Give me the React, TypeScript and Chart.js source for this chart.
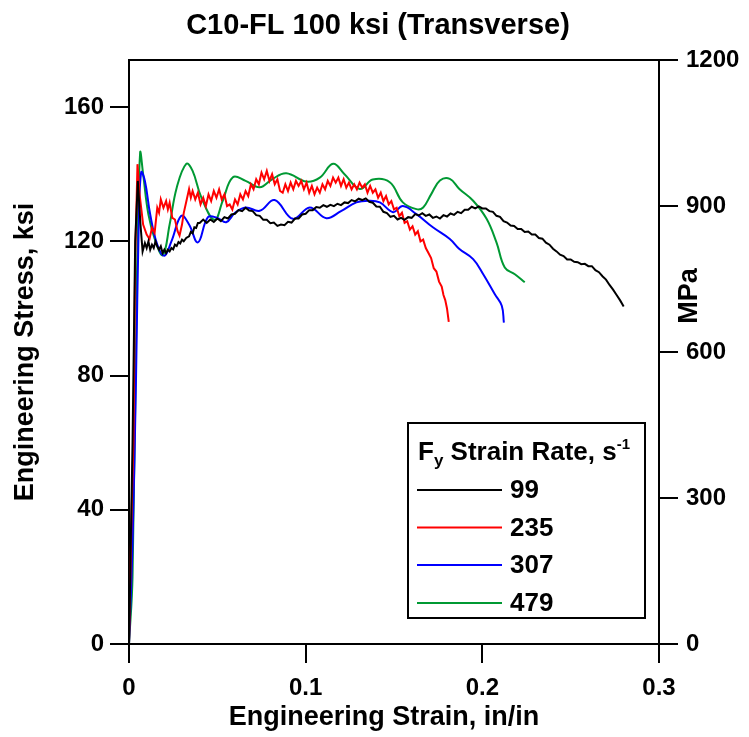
import React, { useEffect, useRef } from "react";
import { Chart, registerables } from "chart.js";

Chart.register(...registerables);

const FONT = "'Liberation Sans', Arial, Helvetica, sans-serif";

const chartTitle = "C10-FL 100 ksi (Transverse)";
const xTitle = "Engineering Strain, in/in";
const yTitle = "Engineering Stress, ksi";
const y2Title = "MPa";

const xTicks = [0, 0.1, 0.2, 0.3];
const yTicks = [0, 40, 80, 120, 160];
const y2Ticks = [0, 300, 600, 900, 1200];
const yMax = 1200 / 6.895;

const seriesLabels = ["99", "235", "307", "479"];
const seriesColors = ["#000000", "#ff0000", "#0000ff", "#009933"];

const strain99 = [0, 0.002, 0.0035, 0.005, 0.0065, 0.0077, 0.009, 0.010, 0.011, 0.012, 0.013, 0.014, 0.015, 0.016, 0.017, 0.018, 0.019, 0.020, 0.021, 0.022, 0.023, 0.024, 0.025, 0.026, 0.027, 0.028, 0.029, 0.030, 0.031, 0.0324, 0.034, 0.035, 0.036, 0.037, 0.038, 0.039, 0.040, 0.042, 0.044, 0.046, 0.048, 0.050, 0.052, 0.054, 0.056, 0.058, 0.060, 0.062, 0.064, 0.066, 0.068, 0.070, 0.072, 0.074, 0.076, 0.078, 0.080, 0.082, 0.084, 0.086, 0.088, 0.090, 0.092, 0.094, 0.096, 0.098, 0.100, 0.102, 0.104, 0.106, 0.108, 0.110, 0.112, 0.114, 0.116, 0.118, 0.120, 0.122, 0.124, 0.126, 0.128, 0.130, 0.132, 0.134, 0.136, 0.138, 0.140, 0.142, 0.144, 0.146, 0.148, 0.150, 0.152, 0.154, 0.156, 0.158, 0.160, 0.162, 0.164, 0.166, 0.168, 0.170, 0.172, 0.174, 0.176, 0.178, 0.180, 0.182, 0.184, 0.186, 0.188, 0.190, 0.192, 0.194, 0.196, 0.198, 0.200, 0.202, 0.204, 0.206, 0.208, 0.210, 0.212, 0.214, 0.216, 0.218, 0.220, 0.222, 0.224, 0.226, 0.228, 0.230, 0.232, 0.234, 0.236, 0.238, 0.240, 0.242, 0.244, 0.246, 0.248, 0.250, 0.252, 0.254, 0.256, 0.258, 0.260, 0.262, 0.264, 0.266, 0.268, 0.270, 0.272, 0.274, 0.276, 0.278, 0.280];
const stress99 = [0, 60, 120, 138, 125, 117, 119.5, 118, 120, 117.5, 119, 118, 120, 118.5, 117.5, 118.5, 116.5, 117.5, 116.5, 117.5, 117, 118, 117.6, 119, 118.6, 119.8, 119.4, 120.5, 120, 121, 121.5, 122.8, 122.4, 124.2, 124, 125.5, 125.5, 126.5, 125.5, 126.5, 125.8, 126.8, 126, 127.2, 126.8, 128, 128.2, 129.3, 129, 130, 129.2, 129, 127.8, 127.6, 126.4, 126.4, 125.4, 125.6, 124.6, 125, 124.8, 125.8, 125.6, 126.8, 126.8, 128, 128.2, 129.3, 129.3, 130.2, 130, 130.8, 130.3, 130.9, 130.5, 131.2, 130.8, 131.6, 131.4, 132.3, 131.9, 132.7, 132.3, 132.8, 131.8, 131.5, 130.4, 130.3, 128.8, 128.4, 127.3, 127.6, 126.5, 127, 126.4, 127.2, 127, 128.1, 127.7, 128.4, 127.6, 128, 127, 127.4, 126.8, 127.8, 127.4, 128.3, 127.9, 128.8, 128.4, 129.4, 129.4, 130.3, 129.8, 130.4, 129.8, 129.8, 129, 128.8, 127.6, 127.3, 126, 125.6, 124.7, 124.6, 123.7, 123.7, 122.8, 122.9, 122, 122, 121, 120.8, 119.6, 119, 117.8, 117, 116, 115.6, 114.6, 114.6, 113.9, 113.8, 113.2, 113.3, 112.6, 112.6, 111.4, 110.8, 109.6, 108.6, 107, 105.6, 104, 102.4, 100.6];

const strain235 = [0, 0.0015, 0.0025, 0.0035, 0.0048, 0.006, 0.008, 0.01, 0.0116, 0.013, 0.0145, 0.016, 0.017, 0.018, 0.0195, 0.021, 0.022, 0.023, 0.0245, 0.026, 0.0275, 0.0286, 0.030, 0.031, 0.0325, 0.034, 0.035, 0.036, 0.0375, 0.039, 0.0405, 0.042, 0.0435, 0.045, 0.0465, 0.048, 0.0495, 0.051, 0.0525, 0.054, 0.0555, 0.057, 0.0585, 0.060, 0.0615, 0.063, 0.0645, 0.066, 0.0675, 0.069, 0.0705, 0.072, 0.0735, 0.075, 0.0765, 0.078, 0.0795, 0.081, 0.0825, 0.084, 0.0855, 0.087, 0.0885, 0.090, 0.0915, 0.093, 0.0945, 0.096, 0.0975, 0.099, 0.1005, 0.102, 0.1035, 0.105, 0.1065, 0.108, 0.1095, 0.111, 0.1125, 0.114, 0.1155, 0.117, 0.1185, 0.120, 0.1215, 0.123, 0.1245, 0.126, 0.1275, 0.129, 0.1305, 0.132, 0.1335, 0.135, 0.1365, 0.138, 0.1395, 0.141, 0.1425, 0.144, 0.1455, 0.147, 0.1485, 0.150, 0.1515, 0.153, 0.1545, 0.156, 0.1575, 0.159, 0.1605, 0.162, 0.1635, 0.165, 0.1665, 0.168, 0.1695, 0.171, 0.1725, 0.174, 0.1755, 0.177, 0.178, 0.179, 0.18, 0.181];
const stress235 = [0, 40, 60, 115, 143, 134, 125, 122, 120.7, 124, 122.5, 130, 128.5, 132.5, 130, 132, 129.5, 131.5, 127, 126.5, 123, 121.7, 125, 128.5, 132, 135.6, 133, 135, 132.5, 134.5, 131, 133, 130.5, 134, 132, 135, 133, 135.5, 132.5, 134, 130.5, 131, 129.5, 132.5, 131, 134, 132.5, 135, 133.5, 137, 135.5, 138.5, 137, 140.5, 138.5, 141, 138, 140, 137, 138.5, 135, 134.5, 137, 135, 137.5, 135.5, 138, 136.5, 138, 135.5, 137.5, 134.5, 136.5, 134, 136, 134.5, 137, 135.5, 138, 136.5, 139, 137.5, 139, 136.5, 138.5, 136, 137.5, 135.5, 137, 135.5, 137.5, 136, 137, 134.5, 136.5, 134.5, 135.5, 133, 134.5, 132, 133.5, 131, 132, 129.5, 130, 127.5, 128.5, 125.5, 126, 123.5, 124.5, 122, 123, 120, 120.5, 118, 116.5, 115, 112, 111, 108, 106.5, 104, 102.5, 100, 96];

const strain307 = [0, 0.002, 0.004, 0.0055, 0.0069, 0.009, 0.012, 0.016, 0.02, 0.024, 0.0296, 0.034, 0.039, 0.0447, 0.05, 0.055, 0.06, 0.066, 0.074, 0.0824, 0.0928, 0.1023, 0.1117, 0.12, 0.1287, 0.1363, 0.142, 0.1495, 0.155, 0.1627, 0.172, 0.1816, 0.187, 0.1948, 0.2005, 0.207, 0.211, 0.2122];
const stress307 = [0, 30, 80, 125, 140.6, 138, 128, 119, 115.7, 120, 127.6, 125, 119.7, 127.2, 127, 125.7, 128.5, 130.1, 129.1, 132.3, 126.7, 130.1, 126.9, 129, 131.6, 132.1, 131.6, 128.7, 130.5, 128.1, 124.2, 120.7, 117.7, 114.7, 110.2, 104.3, 100.8, 95.8];

const strain479 = [0, 0.002, 0.0045, 0.0063, 0.008, 0.011, 0.015, 0.0192, 0.023, 0.027, 0.0324, 0.036, 0.041, 0.0484, 0.053, 0.0588, 0.066, 0.074, 0.081, 0.089, 0.1004, 0.108, 0.1155, 0.122, 0.1306, 0.138, 0.1476, 0.155, 0.1627, 0.1665, 0.171, 0.176, 0.1816, 0.187, 0.1948, 0.2024, 0.208, 0.2127, 0.2184, 0.224];
const stress479 = [0, 20, 110, 146.4, 140, 128, 120, 115.9, 125, 136, 143.1, 141, 133, 126.4, 132, 139.1, 138, 136.1, 138.5, 140.3, 137.8, 139, 143.1, 140, 135.6, 138.4, 137.6, 131.6, 129.6, 130.1, 134, 138.1, 138.6, 135.6, 132.1, 126.7, 119.7, 112.2, 110.2, 107.8];

const seriesStrain = [strain99, strain235, strain307, strain479];
const seriesStress = [stress99, stress235, stress307, stress479];
const seriesSmooth = [0, 0, 0.4, 0.4];

const textPlugin = {
  id: "textPlugin",
  afterDraw(chart: any) {
    const ctx = chart.ctx as CanvasRenderingContext2D;
    const ca = chart.chartArea;
    ctx.save();
    ctx.fillStyle = "#000";
    ctx.strokeStyle = "#000";
    ctx.lineWidth = 2;
    ctx.beginPath();
    ctx.moveTo(ca.left - 1, ca.top);
    ctx.lineTo(ca.right, ca.top);
    ctx.stroke();

    ctx.textAlign = "center";
    ctx.textBaseline = "middle";
    ctx.font = `bold 29px ${FONT}`;
    ctx.fillText(chartTitle, 378, 26);

    ctx.font = `bold 27px ${FONT}`;
    ctx.fillText(xTitle, 384, 718);

    ctx.save();
    ctx.translate(26, 352);
    ctx.rotate(-Math.PI / 2);
    ctx.fillText(yTitle, 0, 0);
    ctx.restore();

    ctx.save();
    ctx.translate(690, 296);
    ctx.rotate(-Math.PI / 2);
    ctx.fillText(y2Title, 0, 0);
    ctx.restore();

    // legend
    const bx = 408, by = 423, bw = 237, bh = 195;
    ctx.fillStyle = "#fff";
    ctx.fillRect(bx, by, bw, bh);
    ctx.lineWidth = 2;
    ctx.strokeRect(bx, by, bw, bh);
    ctx.fillStyle = "#000";
    ctx.textAlign = "left";
    ctx.textBaseline = "alphabetic";
    let x = 418;
    const ty = 460;
    ctx.font = `bold 26px ${FONT}`;
    ctx.fillText("F", x, ty);
    x += ctx.measureText("F").width;
    ctx.font = `bold 17px ${FONT}`;
    ctx.fillText("y", x, ty + 6);
    x += ctx.measureText("y").width;
    ctx.font = `bold 26px ${FONT}`;
    ctx.fillText(" Strain Rate, s", x, ty);
    x += ctx.measureText(" Strain Rate, s").width;
    ctx.font = `bold 15px ${FONT}`;
    ctx.fillText("-1", x, ty - 11);

    ctx.font = `bold 26px ${FONT}`;
    ctx.textBaseline = "middle";
    const rows = [490, 527.5, 565, 603];
    seriesLabels.forEach((lab, i) => {
      ctx.strokeStyle = seriesColors[i];
      ctx.lineWidth = 2;
      ctx.beginPath();
      ctx.moveTo(417, rows[i]);
      ctx.lineTo(502, rows[i]);
      ctx.stroke();
      ctx.fillText(lab, 510, rows[i] + 1);
    });
    ctx.restore();
  },
};

export default function App() {
  const ref = useRef<HTMLCanvasElement | null>(null);
  useEffect(() => {
    if (!ref.current) return;
    const tickFont = { family: FONT, size: 24, weight: "bold" as const };
    const chart = new Chart(ref.current, {
      type: "scatter",
      data: {
        datasets: seriesLabels.map((lab, i) => ({
          label: lab,
          data: seriesStrain[i].map((s, j) => ({ x: s, y: seriesStress[i][j] })),
          showLine: true,
          borderColor: seriesColors[i],
          backgroundColor: seriesColors[i],
          borderWidth: 2,
          pointRadius: 0,
          tension: seriesSmooth[i],
          yAxisID: "y",
        })),
      },
      options: {
        animation: false,
        responsive: false,
        devicePixelRatio: 1,
        layout: { padding: { top: 60, left: 0, right: 0, bottom: 0 } },
        plugins: { legend: { display: false }, tooltip: { enabled: false }, title: { display: false } },
        scales: {
          x: {
            type: "linear",
            min: 0,
            max: 0.3,
            afterBuildTicks: (s: any) => { s.ticks = xTicks.map((v) => ({ value: v })); },
            afterFit: (s: any) => { s.height = 93; },
            ticks: { font: tickFont, color: "#000", padding: 11, callback: (v: any) => String(v) },
            grid: { drawOnChartArea: false, tickLength: 19, color: "#000", lineWidth: 2 },
            border: { display: true, color: "#000", width: 2 },
          },
          y: {
            type: "linear",
            position: "left",
            min: 0,
            max: yMax,
            afterBuildTicks: (s: any) => { s.ticks = yTicks.map((v) => ({ value: v })); },
            afterFit: (s: any) => { s.width = 129; },
            ticks: { font: tickFont, color: "#000", padding: 6, callback: (v: any) => String(v) },
            grid: { drawOnChartArea: false, tickLength: 19, color: "#000", lineWidth: 2 },
            border: { display: true, color: "#000", width: 2 },
          },
          y2: {
            type: "linear",
            position: "right",
            min: 0,
            max: 1200,
            afterBuildTicks: (s: any) => { s.ticks = y2Ticks.map((v) => ({ value: v })); },
            afterFit: (s: any) => { s.width = 90; },
            ticks: { font: tickFont, color: "#000", padding: 8, callback: (v: any) => String(v) },
            grid: { drawOnChartArea: false, tickLength: 19, color: "#000", lineWidth: 2 },
            border: { display: true, color: "#000", width: 2 },
          },
        },
      },
      plugins: [textPlugin],
    });
    return () => chart.destroy();
  }, []);
  return (
    <div style={{ position: "fixed", left: 0, top: 0, width: 749, height: 737, background: "#fff" }}>
      <canvas ref={ref} width={749} height={737} style={{ width: 749, height: 737 }} />
    </div>
  );
}
